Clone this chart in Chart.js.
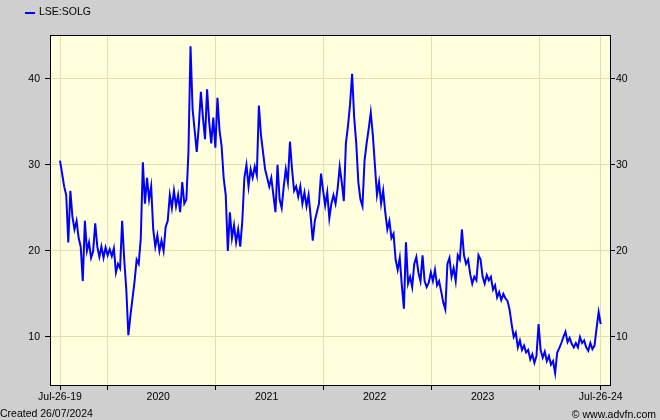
<!DOCTYPE html>
<html>
<head>
<meta charset="utf-8">
<script src="https://cdn.jsdelivr.net/npm/chart.js@4.4.1/dist/chart.umd.min.js"></script>
<style>
  html, body { margin: 0; padding: 0; background: #cfcfcf; }
  #wrap { width: 660px; height: 420px; }
</style>
</head>
<body>
<div id="wrap"><canvas id="myChart" width="660" height="420"></canvas></div>
<script>
const seriesName = 'LSE:SOLG';
const startLabel = 'Jul-26-19';
const endLabel = 'Jul-26-24';
const createdText = 'Created 26/07/2024';
const sourceText = '\u00A9 www.advfn.com';

// weekly prices from Jul-26-19 to Jul-26-24
const prices = [
    30.5, 29.0, 27.5, 26.5, 21.0, 27.0, 24.0, 22.5, 23.5, 21.5,
    20.5, 16.5, 23.5, 20.0, 21.0, 19.2, 20.0, 23.2, 20.5, 19.3,
    20.5, 19.2, 20.4, 19.5, 20.2, 19.4, 20.3, 17.5, 18.5, 18.0,
    23.5, 19.0, 15.5, 10.2, 12.5, 14.5, 16.5, 19.0, 18.5, 21.5,
    30.3, 25.5, 28.5, 26.0, 27.5, 22.5, 20.5, 21.8, 20.0, 21.2,
    20.0, 22.8, 23.5, 26.5, 25.0, 27.0, 25.2, 26.5, 24.5, 28.0,
    25.5, 26.0, 31.5, 43.8, 36.5, 34.0, 31.5, 34.5, 38.5, 35.5,
    33.0, 38.8, 35.0, 32.5, 35.5, 32.0, 37.8, 34.0, 32.2, 28.5,
    26.5, 20.0, 24.5, 21.5, 23.0, 21.0, 22.5, 20.5, 23.5, 28.5,
    30.0, 27.5, 29.5, 28.5, 29.8, 28.8, 36.9, 33.5, 31.5, 29.5,
    28.5, 27.5, 28.5, 26.5, 24.5, 30.0, 26.0, 25.0, 27.5, 29.5,
    28.0, 32.7, 29.5, 27.0, 27.5, 26.3, 27.5, 25.5, 26.8, 25.2,
    26.5, 24.0, 21.2, 23.5, 24.5, 25.5, 29.0, 27.0, 25.3, 26.8,
    23.8, 25.5, 26.5, 25.5, 27.2, 29.8, 28.0, 25.8, 32.5, 34.5,
    37.0, 40.6, 35.5, 32.5, 28.0, 26.0, 25.2, 30.5, 32.5, 34.2,
    36.1, 33.5, 30.0, 26.5, 28.0, 25.5, 27.0, 24.5, 22.5, 23.5,
    21.5, 22.0, 19.0, 17.8, 19.2, 16.0, 13.3, 21.0, 16.2, 17.0,
    15.8, 18.5, 19.3, 17.5, 16.5, 19.5, 16.5, 15.8, 16.3, 17.5,
    16.5, 17.8, 16.0, 16.5, 15.3, 14.0, 13.2, 18.5, 19.2, 17.0,
    18.0, 16.5, 19.5, 19.0, 22.5, 19.5, 18.5, 19.0, 17.3, 16.2,
    17.0, 16.6, 19.5, 19.0, 17.0, 16.2, 17.2, 16.6, 17.0, 15.5,
    16.0, 14.6, 15.2, 14.3, 15.0, 14.5, 14.2, 13.2, 11.5, 10.0,
    10.5, 8.8, 9.6, 8.5, 9.0, 8.2, 8.5, 7.4, 8.0, 7.0,
    7.8, 11.5, 8.5, 7.6, 8.3, 7.2, 7.8, 6.8, 7.2, 5.8,
    8.2, 8.7, 9.3, 10.0, 10.6, 9.4, 9.9, 9.2, 8.8, 9.3,
    8.8, 10.0, 9.3, 9.6, 8.8, 8.4, 9.3, 8.6, 9.0, 11.0,
    12.9, 11.5
];

const yearLabels = ['2020', '2021', '2022', '2023'];
// days after Jul-26-19 for Jan 1 of 2020..2024
const yearStartDays = [159, 525, 890, 1255, 1620];
const lastDay = 1827;
const yTicks = [10, 20, 30, 40];

const gridColor = '#e3deaa';
const fontSpec = { family: '"Liberation Sans", Arial, sans-serif', size: 10.5 };

const points = prices.map((p, i) => ({ x: i * 7, y: p }));

// x ticks: ends + year boundaries get grid lines, mid-year ticks only carry the year label
const lineTicks = [0].concat(yearStartDays, [lastDay]);
const labelTicks = {};
labelTicks[0] = startLabel;
labelTicks[lastDay] = endLabel;
yearLabels.forEach((lab, i) => {
    const mid = Math.round((yearStartDays[i] + yearStartDays[i + 1]) / 2) - 10;
    labelTicks[mid] = lab;
});
const allXTicks = Array.from(new Set(lineTicks.concat(Object.keys(labelTicks).map(Number)))).sort((a, b) => a - b);

const isLineTick = v => lineTicks.indexOf(v) !== -1;

const frame = {
    id: 'frame',
    beforeDraw(chart) {
        const { ctx, chartArea: a } = chart;
        ctx.save();
        ctx.fillStyle = '#cfcfcf';
        ctx.fillRect(0, 0, chart.width, chart.height);
        ctx.fillStyle = '#ffffdd';
        ctx.fillRect(a.left, a.top, a.right - a.left, a.bottom - a.top);
        ctx.restore();
    },
    afterDraw(chart) {
        const { ctx, chartArea: a } = chart;
        ctx.save();
        ctx.strokeStyle = '#000';
        ctx.lineWidth = 1;
        ctx.strokeRect(a.left + 0.5, a.top + 0.5, a.right - a.left, a.bottom - a.top);

        // legend
        ctx.strokeStyle = '#0000ff';
        ctx.lineWidth = 2;
        ctx.beginPath();
        ctx.moveTo(25, 13);
        ctx.lineTo(35, 13);
        ctx.stroke();
        ctx.fillStyle = '#000';
        ctx.font = fontSpec.size + 'px ' + fontSpec.family;
        ctx.textBaseline = 'middle';
        ctx.textAlign = 'left';
        ctx.fillText(seriesName, 39, 12);

        // footer
        ctx.textBaseline = 'alphabetic';
        ctx.fillText(createdText, 0, 417);
        ctx.textAlign = 'right';
        ctx.fillText(sourceText, 656, 418);
        ctx.restore();
    }
};

new Chart(document.getElementById('myChart'), {
    type: 'line',
    data: {
        datasets: [{
            label: seriesName,
            data: points,
            borderColor: '#0000ff',
            borderWidth: 2,
            pointRadius: 0,
            tension: 0,
            fill: false
        }]
    },
    options: {
        responsive: false,
        animation: false,
        events: [],
        layout: { padding: { top: 35, left: 0, right: 0, bottom: 0 } },
        plugins: {
            legend: { display: false },
            tooltip: { enabled: false }
        },
        scales: {
            x: {
                type: 'linear',
                position: 'bottom',
                min: -33.8,
                max: 1858.4,
                afterBuildTicks: scale => { scale.ticks = allXTicks.map(v => ({ value: v })); },
                afterFit: scale => { scale.height = 35; },
                border: { display: false },
                grid: {
                    color: ctx => isLineTick(ctx.tick.value) ? gridColor : 'rgba(0,0,0,0)',
                    tickColor: ctx => isLineTick(ctx.tick.value) ? '#000' : 'rgba(0,0,0,0)',
                    tickLength: 5,
                    lineWidth: 1
                },
                ticks: {
                    autoSkip: false,
                    maxRotation: 0,
                    padding: 1,
                    color: '#000',
                    font: fontSpec,
                    callback: v => labelTicks[v] || ''
                }
            },
            y: {
                type: 'linear',
                position: 'left',
                min: 4.42,
                max: 45.1,
                afterBuildTicks: scale => { scale.ticks = yTicks.map(v => ({ value: v })); },
                afterFit: scale => { scale.width = 50; },
                border: { display: false },
                grid: { color: gridColor, tickColor: '#000', tickLength: 5 },
                ticks: { padding: 5, color: '#000', font: fontSpec }
            },
            y2: {
                type: 'linear',
                position: 'right',
                min: 4.42,
                max: 45.1,
                afterBuildTicks: scale => { scale.ticks = yTicks.map(v => ({ value: v })); },
                afterFit: scale => { scale.width = 50; },
                border: { display: false },
                grid: { drawOnChartArea: false, tickColor: '#000', tickLength: 5 },
                ticks: { padding: 1, color: '#000', font: fontSpec }
            }
        }
    },
    plugins: [frame]
});
</script>
</body>
</html>
